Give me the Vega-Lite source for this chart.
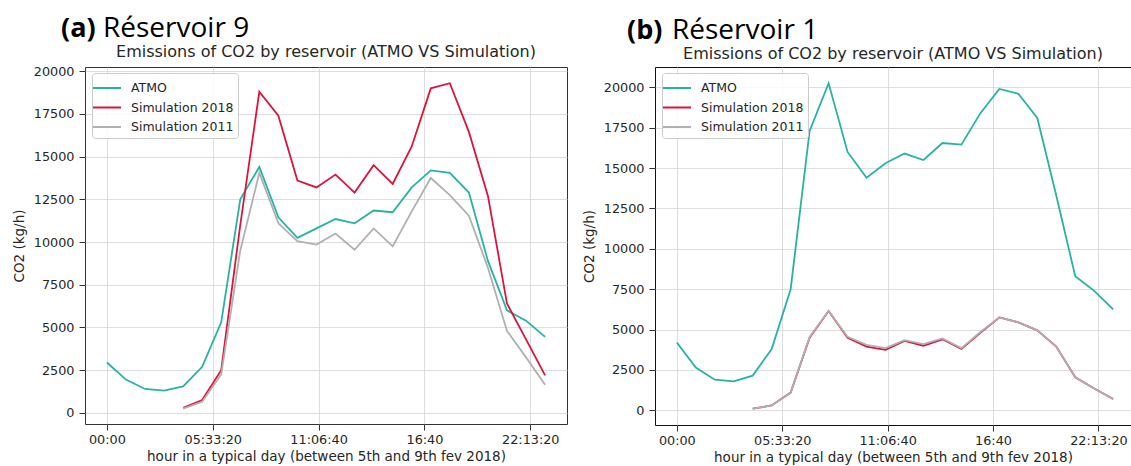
{
  "$schema": "https://vega.github.io/schema/vega-lite/v6.json",
  "background": "white",
  "padding": {"left": 11, "top": 14, "right": 0, "bottom": 0},
  "datasets": {
    "r9": [
      {"t": 0, "s": "ATMO", "v": 2950}, {"t": 3600, "s": "ATMO", "v": 1950}, {"t": 7200, "s": "ATMO", "v": 1400}, {"t": 10800, "s": "ATMO", "v": 1300},
      {"t": 14400, "s": "ATMO", "v": 1550}, {"t": 18000, "s": "ATMO", "v": 2700}, {"t": 21600, "s": "ATMO", "v": 5300}, {"t": 25200, "s": "ATMO", "v": 12500},
      {"t": 28800, "s": "ATMO", "v": 14400}, {"t": 32400, "s": "ATMO", "v": 11450}, {"t": 36000, "s": "ATMO", "v": 10250}, {"t": 39600, "s": "ATMO", "v": 10800},
      {"t": 43200, "s": "ATMO", "v": 11350}, {"t": 46800, "s": "ATMO", "v": 11100}, {"t": 50400, "s": "ATMO", "v": 11850}, {"t": 54000, "s": "ATMO", "v": 11750},
      {"t": 57600, "s": "ATMO", "v": 13200}, {"t": 61200, "s": "ATMO", "v": 14200}, {"t": 64800, "s": "ATMO", "v": 14050}, {"t": 68400, "s": "ATMO", "v": 12900},
      {"t": 72000, "s": "ATMO", "v": 8900}, {"t": 75600, "s": "ATMO", "v": 6000}, {"t": 79200, "s": "ATMO", "v": 5400}, {"t": 82800, "s": "ATMO", "v": 4450},
      {"t": 14400, "s": "Simulation 2018", "v": 300}, {"t": 18000, "s": "Simulation 2018", "v": 750}, {"t": 21600, "s": "Simulation 2018", "v": 2500}, {"t": 25200, "s": "Simulation 2018", "v": 11000},
      {"t": 28800, "s": "Simulation 2018", "v": 18800}, {"t": 32400, "s": "Simulation 2018", "v": 17400}, {"t": 36000, "s": "Simulation 2018", "v": 13600}, {"t": 39600, "s": "Simulation 2018", "v": 13200},
      {"t": 43200, "s": "Simulation 2018", "v": 13950}, {"t": 46800, "s": "Simulation 2018", "v": 12900}, {"t": 50400, "s": "Simulation 2018", "v": 14500}, {"t": 54000, "s": "Simulation 2018", "v": 13400},
      {"t": 57600, "s": "Simulation 2018", "v": 15600}, {"t": 61200, "s": "Simulation 2018", "v": 19000}, {"t": 64800, "s": "Simulation 2018", "v": 19300}, {"t": 68400, "s": "Simulation 2018", "v": 16450},
      {"t": 72000, "s": "Simulation 2018", "v": 12700}, {"t": 75600, "s": "Simulation 2018", "v": 6400}, {"t": 79200, "s": "Simulation 2018", "v": 4300}, {"t": 82800, "s": "Simulation 2018", "v": 2200},
      {"t": 14400, "s": "Simulation 2011", "v": 250}, {"t": 18000, "s": "Simulation 2011", "v": 650}, {"t": 21600, "s": "Simulation 2011", "v": 2250}, {"t": 25200, "s": "Simulation 2011", "v": 9500},
      {"t": 28800, "s": "Simulation 2011", "v": 14050}, {"t": 32400, "s": "Simulation 2011", "v": 11100}, {"t": 36000, "s": "Simulation 2011", "v": 10050}, {"t": 39600, "s": "Simulation 2011", "v": 9850},
      {"t": 43200, "s": "Simulation 2011", "v": 10500}, {"t": 46800, "s": "Simulation 2011", "v": 9550}, {"t": 50400, "s": "Simulation 2011", "v": 10800}, {"t": 54000, "s": "Simulation 2011", "v": 9750},
      {"t": 57600, "s": "Simulation 2011", "v": 11800}, {"t": 61200, "s": "Simulation 2011", "v": 13750}, {"t": 64800, "s": "Simulation 2011", "v": 12750}, {"t": 68400, "s": "Simulation 2011", "v": 11550},
      {"t": 72000, "s": "Simulation 2011", "v": 8500}, {"t": 75600, "s": "Simulation 2011", "v": 4800}, {"t": 79200, "s": "Simulation 2011", "v": 3250}, {"t": 82800, "s": "Simulation 2011", "v": 1650}
    ],
    "r1": [
      {"t": 0, "s": "ATMO", "v": 4200}, {"t": 3600, "s": "ATMO", "v": 2650}, {"t": 7200, "s": "ATMO", "v": 1900}, {"t": 10800, "s": "ATMO", "v": 1800},
      {"t": 14400, "s": "ATMO", "v": 2150}, {"t": 18000, "s": "ATMO", "v": 3800}, {"t": 21600, "s": "ATMO", "v": 7500}, {"t": 25200, "s": "ATMO", "v": 17300},
      {"t": 28800, "s": "ATMO", "v": 20250}, {"t": 32400, "s": "ATMO", "v": 16000}, {"t": 36000, "s": "ATMO", "v": 14400}, {"t": 39600, "s": "ATMO", "v": 15300},
      {"t": 43200, "s": "ATMO", "v": 15900}, {"t": 46800, "s": "ATMO", "v": 15500}, {"t": 50400, "s": "ATMO", "v": 16550}, {"t": 54000, "s": "ATMO", "v": 16450},
      {"t": 57600, "s": "ATMO", "v": 18400}, {"t": 61200, "s": "ATMO", "v": 19900}, {"t": 64800, "s": "ATMO", "v": 19600}, {"t": 68400, "s": "ATMO", "v": 18100},
      {"t": 72000, "s": "ATMO", "v": 13300}, {"t": 75600, "s": "ATMO", "v": 8300}, {"t": 79200, "s": "ATMO", "v": 7400}, {"t": 82800, "s": "ATMO", "v": 6250},
      {"t": 14400, "s": "Simulation 2018", "v": 100}, {"t": 18000, "s": "Simulation 2018", "v": 300}, {"t": 21600, "s": "Simulation 2018", "v": 1100}, {"t": 25200, "s": "Simulation 2018", "v": 4500},
      {"t": 28800, "s": "Simulation 2018", "v": 6150}, {"t": 32400, "s": "Simulation 2018", "v": 4500}, {"t": 36000, "s": "Simulation 2018", "v": 3950}, {"t": 39600, "s": "Simulation 2018", "v": 3750},
      {"t": 43200, "s": "Simulation 2018", "v": 4300}, {"t": 46800, "s": "Simulation 2018", "v": 4000}, {"t": 50400, "s": "Simulation 2018", "v": 4400}, {"t": 54000, "s": "Simulation 2018", "v": 3800},
      {"t": 57600, "s": "Simulation 2018", "v": 4800}, {"t": 61200, "s": "Simulation 2018", "v": 5750}, {"t": 64800, "s": "Simulation 2018", "v": 5450}, {"t": 68400, "s": "Simulation 2018", "v": 4950},
      {"t": 72000, "s": "Simulation 2018", "v": 3950}, {"t": 75600, "s": "Simulation 2018", "v": 2050}, {"t": 79200, "s": "Simulation 2018", "v": 1350}, {"t": 82800, "s": "Simulation 2018", "v": 700},
      {"t": 14400, "s": "Simulation 2011", "v": 100}, {"t": 18000, "s": "Simulation 2011", "v": 300}, {"t": 21600, "s": "Simulation 2011", "v": 1100}, {"t": 25200, "s": "Simulation 2011", "v": 4550},
      {"t": 28800, "s": "Simulation 2011", "v": 6150}, {"t": 32400, "s": "Simulation 2011", "v": 4550}, {"t": 36000, "s": "Simulation 2011", "v": 4050}, {"t": 39600, "s": "Simulation 2011", "v": 3850},
      {"t": 43200, "s": "Simulation 2011", "v": 4350}, {"t": 46800, "s": "Simulation 2011", "v": 4100}, {"t": 50400, "s": "Simulation 2011", "v": 4450}, {"t": 54000, "s": "Simulation 2011", "v": 3850},
      {"t": 57600, "s": "Simulation 2011", "v": 4850}, {"t": 61200, "s": "Simulation 2011", "v": 5750}, {"t": 64800, "s": "Simulation 2011", "v": 5450}, {"t": 68400, "s": "Simulation 2011", "v": 4950},
      {"t": 72000, "s": "Simulation 2011", "v": 3950}, {"t": 75600, "s": "Simulation 2011", "v": 2050}, {"t": 79200, "s": "Simulation 2011", "v": 1350}, {"t": 82800, "s": "Simulation 2011", "v": 700}
    ]
  },
  "config": {
    "font": "DejaVu Sans",
    "view": {"stroke": "#333333", "strokeWidth": 1},
    "concat": {"spacing": 13},
    "axis": {
      "grid": true, "gridColor": "#d6d6d6", "gridWidth": 0.8, "domain": false,
      "tickColor": "#333333", "tickSize": 6, "tickWidth": 1,
      "labelFont": "DejaVu Sans", "labelFontSize": 12.8, "labelColor": "#262626",
      "titleFont": "DejaVu Sans", "titleFontSize": 13.5, "titleFontWeight": "normal", "titleColor": "#262626"
    },
    "axisX": {"labelPadding": 3, "titlePadding": 4},
    "axisY": {"labelPadding": 5, "titlePadding": 7},
    "legend": {
      "orient": "none", "legendX": 7, "legendY": 6, "padding": 4, "rowPadding": 1.5,
      "fillColor": "rgba(255,255,255,0.85)", "strokeColor": "#cccccc", "cornerRadius": 3,
      "symbolType": "M-1.4,0H1.4", "symbolSize": 400, "symbolStrokeWidth": 2,
      "labelFont": "DejaVu Sans", "labelFontSize": 12.5, "labelColor": "#262626", "labelOffset": 13
    }
  },
  "hconcat": [
    {
      "title": {"text": "(a)", "anchor": "start", "frame": "group", "font": "Open Sans", "fontSize": 27, "fontWeight": "bold", "color": "black", "dx": -24, "dy": 28, "offset": 0},
      "vconcat": [
        {
          "title": {"text": "Réservoir 9", "anchor": "start", "frame": "group", "font": "Open Sans", "fontSize": 28, "fontWeight": "normal", "color": "black", "dx": 18, "offset": 1},
          "vconcat": [
            {
              "title": {"text": "Emissions of CO2 by reservoir (ATMO VS Simulation)", "anchor": "middle", "frame": "group", "font": "DejaVu Sans", "fontSize": 16, "fontWeight": "normal", "color": "#262626", "offset": 5},
              "width": 482,
              "height": 357,
              "data": {"name": "r9"},
              "mark": {"type": "line", "strokeWidth": 1.8},
              "encoding": {
                "x": {"field": "t", "type": "quantitative", "scale": {"domain": [-4140, 86940], "nice": false, "zero": false},
                  "axis": {"values": [0, 20000, 40000, 60000, 80000], "title": "hour in a typical day (between 5th and 9th fev 2018)",
                    "labelExpr": "datum.value == 0 ? '00:00' : datum.value == 20000 ? '05:33:20' : datum.value == 40000 ? '11:06:40' : datum.value == 60000 ? '16:40' : '22:13:20'"}},
                "y": {"field": "v", "type": "quantitative", "scale": {"domain": [-650, 20250], "nice": false, "zero": false},
                  "axis": {"values": [0, 2500, 5000, 7500, 10000, 12500, 15000, 17500, 20000], "format": "d", "title": "CO2 (kg/h)"}},
                "color": {"field": "s", "type": "nominal",
                  "scale": {"domain": ["ATMO", "Simulation 2018", "Simulation 2011"], "range": ["#27b3a3", "#dc143c", "#b0b0b0"]},
                  "legend": {"title": null}},
                "opacity": {"field": "s", "type": "nominal",
                  "scale": {"domain": ["ATMO", "Simulation 2018", "Simulation 2011"], "range": [1, 1, 0.7]}, "legend": null}
              }
            }
          ]
        }
      ]
    },
    {
      "title": {"text": "(b)", "anchor": "start", "frame": "group", "font": "Open Sans", "fontSize": 27, "fontWeight": "bold", "color": "black", "dx": -28, "dy": 28, "offset": 0},
      "vconcat": [
        {
          "title": {"text": "Réservoir 1", "anchor": "start", "frame": "group", "font": "Open Sans", "fontSize": 28, "fontWeight": "normal", "color": "black", "dx": 17, "offset": 1},
          "vconcat": [
            {
              "title": {"text": "Emissions of CO2 by reservoir (ATMO VS Simulation)", "anchor": "middle", "frame": "group", "font": "DejaVu Sans", "fontSize": 16, "fontWeight": "normal", "color": "#262626", "offset": 5},
              "width": 476,
              "height": 358,
              "view": {"stroke": "#111111"},
              "data": {"name": "r1"},
              "mark": {"type": "line", "strokeWidth": 1.8},
              "encoding": {
                "x": {"field": "t", "type": "quantitative", "scale": {"domain": [-4140, 86180], "nice": false, "zero": false},
                  "axis": {"values": [0, 20000, 40000, 60000, 80000], "title": "hour in a typical day (between 5th and 9th fev 2018)",
                    "labelExpr": "datum.value == 0 ? '00:00' : datum.value == 20000 ? '05:33:20' : datum.value == 40000 ? '11:06:40' : datum.value == 60000 ? '16:40' : '22:13:20'"}},
                "y": {"field": "v", "type": "quantitative", "scale": {"domain": [-907, 21257], "nice": false, "zero": false},
                  "axis": {"values": [0, 2500, 5000, 7500, 10000, 12500, 15000, 17500, 20000], "format": "d", "title": "CO2 (kg/h)"}},
                "color": {"field": "s", "type": "nominal",
                  "scale": {"domain": ["ATMO", "Simulation 2018", "Simulation 2011"], "range": ["#27b3a3", "#dc143c", "#b0b0b0"]},
                  "legend": {"title": null}},
                "opacity": {"field": "s", "type": "nominal",
                  "scale": {"domain": ["ATMO", "Simulation 2018", "Simulation 2011"], "range": [1, 1, 0.7]}, "legend": null}
              }
            }
          ]
        }
      ]
    }
  ],
  "resolve": {"scale": {"color": "independent", "opacity": "independent"}}
}
